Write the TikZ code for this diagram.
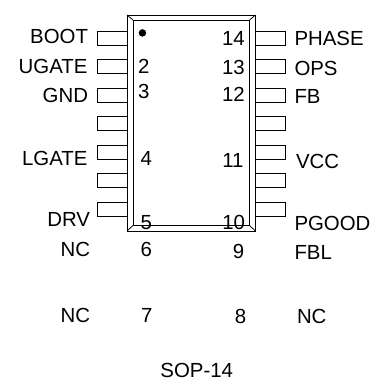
\documentclass[tikz,border=0pt]{standalone}
\usepackage{fontspec}
\setmainfont{Liberation Sans}
\usepackage{tikz}
\usetikzlibrary{positioning}

\begin{document}
\begin{tikzpicture} [x=1pt, y=1pt, thin, line width=0.75pt,
                    kotelo/.style={rectangle,draw,inner sep=0pt,outer sep=0pt},
                    jalka/.style={rectangle,draw,inner sep=0pt,outer sep=0pt,minimum width=30pt,minimum height=14pt},
                    teksti/.style={inner sep=0pt,outer sep=0pt,text height=14pt,text depth=0pt,font=\fontsize{20.4}{22}\selectfont}]
\useasboundingbox (0,0) rectangle (374,381);

\node[kotelo,minimum width=128.5pt,minimum height=216pt] (BODY) at (191.25,258) {};
\node[kotelo,minimum width=116.5pt,minimum height=205.5pt] (INNER) at (191.25,258.25) {};

% left pins
\node[jalka] (L1) [below left=16pt and 0pt of BODY.north west] {};
\node[jalka] (L2) [below=14.5pt of L1] {};
\node[jalka] (L3) [below=14.5pt of L2] {};
\node[jalka] (L4) [below=14.5pt of L3] {};
\node[jalka] (L5) [below=14.5pt of L4] {};
\node[jalka] (L6) [below=14.5pt of L5] {};
\node[jalka] (L7) [below=14.5pt of L6] {};

% right pins
\node[jalka] (R1) [below right=16pt and 0pt of BODY.north east] {};
\node[jalka] (R2) [below=14.5pt of R1] {};
\node[jalka] (R3) [below=14.5pt of R2] {};
\node[jalka] (R4) [below=14.5pt of R3] {};
\node[jalka] (R5) [below=14.5pt of R4] {};
\node[jalka] (R6) [below=14.5pt of R5] {};
\node[jalka] (R7) [below=14.5pt of R6] {};

\node[circle,fill,inner sep=0pt,minimum size=7.5pt] (DOT) [below right=15pt and 12.5pt of BODY.north west] {};

% left names
\node[teksti] (BOOT) [left=9pt of L1,yshift=1pt] {BOOT};
\node[teksti] (UGATE) [left=9.5pt of L2] {UGATE};
\node[teksti] (GND) [left=9pt of L3,yshift=-0.5pt] {GND};
\node[teksti] (LGATE) [left=9.5pt of L5,yshift=-7pt] {LGATE};
\node[teksti] (DRV) [left=7pt of L7,yshift=-11pt] {DRV};
\node[teksti] (NCA) [left=7pt of L7,yshift=-41pt] {NC};
\node[teksti] (NCB) [left=7pt of L7,yshift=-106.5pt] {NC};

% right names
\node[teksti] (PHASE) [right=9pt of R1,yshift=-1pt] {PHASE};
\node[teksti] (OPS) [right=9pt of R2,yshift=-2pt] {OPS};
\node[teksti] (FB) [right=9pt of R3,yshift=-1.5pt] {FB};
\node[teksti] (VCC) [right=10.5pt of R5,yshift=-9.5pt] {VCC};
\node[teksti] (PGOOD) [right=9pt of R7,yshift=-14.5pt] {PGOOD};
\node[teksti] (FBL) [right=9pt of R7,yshift=-43.5pt] {FBL};
\node[teksti] (NCC) [right=11.5pt of R7,yshift=-108pt] {NC};

% pin numbers
\node[teksti] (N2) [right=11pt of L2] {2};
\node[teksti] (N3) [right=11pt of L3,yshift=3pt] {3};
\node[teksti] (N4) [right=13.7pt of L5,yshift=-6.5pt] {4};
\node[teksti] (N5) [right=13.7pt of L7,yshift=-14pt] {5};
\node[teksti] (N6) [below=13pt of N5] {6};
\node[teksti] (N7) [below=51.5pt of N6,xshift=0.5pt] {7};
\node[teksti] (N14) [left=10.7pt of R1,yshift=-1pt] {14};
\node[teksti] (N13) [left=10.7pt of R2,yshift=-1pt] {13};
\node[teksti] (N12) [left=10.7pt of R3] {12};
\node[teksti] (N11) [left=12pt of R5,yshift=-8.5pt] {11};
\node[teksti] (N10) [left=10.5pt of R7,yshift=-14pt] {10};
\node[teksti] (N9) [below=15pt of N10,xshift=5pt] {9};
\node[teksti] (N8) [below=51pt of N9,xshift=2pt] {8};

\node[teksti] (SOP) [below=133pt of BODY,xshift=5.5pt] {SOP-14};

 \path[draw]
    (BODY.north west) -- (INNER.north west)
    (BODY.north east) -- (INNER.north east)
    (BODY.south west) -- (INNER.south west)
    (BODY.south east) -- (INNER.south east);
\end{tikzpicture}
\end{document}
